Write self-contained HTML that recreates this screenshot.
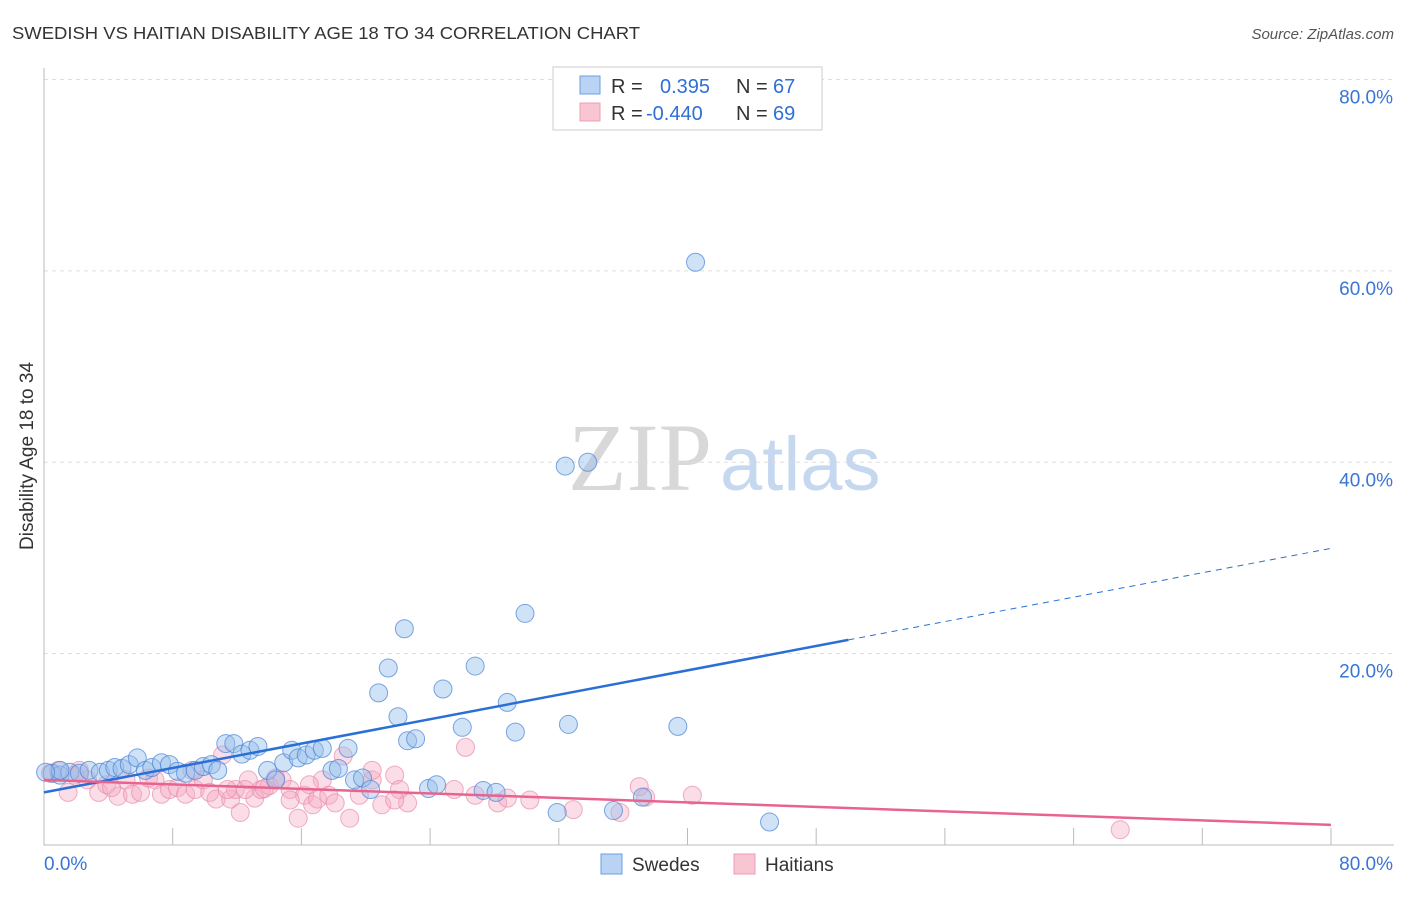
<!DOCTYPE html>
<html><head><meta charset="utf-8"><style>
body{margin:0;background:#fff;font-family:"Liberation Sans",sans-serif}
</style></head><body>
<svg id="chart" width="1406" height="892" xmlns="http://www.w3.org/2000/svg" font-family="Liberation Sans, sans-serif">
<text x="12" y="39" font-size="17.5" fill="#333" textLength="628" lengthAdjust="spacingAndGlyphs">SWEDISH VS HAITIAN DISABILITY AGE 18 TO 34 CORRELATION CHART</text>
<text x="1394" y="39" font-size="15" fill="#555" font-style="italic" text-anchor="end">Source: ZipAtlas.com</text>
<text x="712" y="490" font-size="96" fill="#d8d8d8" text-anchor="end" font-family="Liberation Serif, serif">ZIP</text>
<text x="720" y="490" font-size="76" fill="#c6d8ef">atlas</text>
<g id="grid"></g><g id="axes"></g><g id="marks"></g>
<text transform="translate(33,456) rotate(-90)" font-size="19" fill="#333" text-anchor="middle">Disability Age 18 to 34</text>
<g>
<rect x="553" y="67" width="269" height="63" fill="#fff" stroke="#ccc"/>
<rect x="580" y="76" width="20" height="18" fill="#b8d3f3" stroke="#6d9fe0"/>
<rect x="580" y="103" width="20" height="18" fill="#f8c5d3" stroke="#ec9fb6"/>
<text x="611" y="93" font-size="20" fill="#333">R = </text><text x="660" y="93" font-size="20" fill="#2f6fd6">0.395</text>
<text x="736" y="93" font-size="20" fill="#333">N = </text><text x="773" y="93" font-size="20" fill="#2f6fd6">67</text>
<text x="611" y="120" font-size="20" fill="#333">R = </text><text x="646" y="120" font-size="20" fill="#2f6fd6">-0.440</text>
<text x="736" y="120" font-size="20" fill="#333">N = </text><text x="773" y="120" font-size="20" fill="#2f6fd6">69</text>
</g>
<g>
<rect x="601" y="854" width="21" height="20" fill="#b8d3f3" stroke="#6d9fe0"/>
<text x="632" y="871" font-size="19" fill="#333">Swedes</text>
<rect x="734" y="854" width="21" height="20" fill="#f8c5d3" stroke="#ec9fb6"/>
<text x="765" y="871" font-size="19" fill="#333">Haitians</text>
</g>
</svg>
<script>
const xTicks=[0,80];
const yTicks=[20,40,60,80];
const swedesX=[0.5,1,1.6,2.2,2.8,3.5,4,4.4,4.851,5.3,5.8,6.3,6.7,7.3,7.8,8.3,8.8,9.4,9.9,10.4,10.8,11.3,11.8,12.3,12.8,13.3,13.9,14.4,14.9,15.4,15.8,16.3,16.8,17.3,17.9,18.3,18.9,19.3,19.8,20.3,20.8,21.4,22,22.4,22.6,23.1,23.9,24.4,24.8,26,26.8,27.3,28.1,28.8,29.3,29.9,31.9,32.4,33.8,32.6,35.4,37.2,39.4,40.5,45.1,1,0.1];
const swedesY=[7.5,7.3,7.6,7.5,7.8,7.6,7.8,8.1,8,8.4,9.1,7.8,8.1,8.6,8.4,7.7,7.5,7.8,8.2,8.4,7.8,10.6,10.6,9.5,9.9,10.3,7.8,6.8,8.6,9.9,9.1,9.4,9.9,10.1,7.8,8,10.1,6.8,7,5.8,15.9,18.5,13.4,22.6,10.9,11.1,5.9,6.3,16.3,12.3,18.7,5.7,5.5,14.9,11.8,24.2,3.4,39.6,40,12.6,3.6,5,12.4,60.9,2.4,7.8,7.6];
const haitiansX=[0.4,0.9,1.5,2.2,2.7,3.4,3.9,4.6,5.1,5.5,6,6.5,6.9,7.3,7.8,8.3,8.8,9.4,9.9,10.3,10.7,11.1,11.6,11.9,12.2,12.7,13.1,13.5,14,14.4,14.8,15.3,15.8,16.2,16.7,17,17.3,17.7,18.1,18.6,19,19.6,20.4,21,21.8,22.1,22.6,26.2,26.8,28.2,28.8,32.9,35.8,37,37.4,40.3,66.9,1.9,4.2,9.2,11.4,12.5,13.7,16.5,20.4,15.3,21.8,25.5,30.2];
const haitiansY=[7.5,7.8,5.5,7.8,6.8,5.5,6.3,5.1,6.8,5.3,5.5,7,6.8,5.3,5.8,6,5.3,5.8,6.8,5.5,4.8,9.4,4.8,5.8,3.4,6.8,4.9,5.8,6.2,7,6.8,5.8,2.8,5.2,4.2,4.8,6.8,5.2,4.4,9.3,2.8,5.2,6.8,4.2,7.3,5.8,4.4,10.2,5.2,4.4,4.9,3.7,3.4,6.1,5,5.2,1.6,7.3,6,7.8,5.8,5.8,5.9,6.3,7.8,4.7,4.7,5.8,4.7];
const sw={a:5.5,b:31,solidEnd:50};
const ha={a:6.8,b:2.1};
const X=v=>44+v*(1331-44)/80, Y=v=>845-v*(845-79.5)/80;
const NS='http://www.w3.org/2000/svg';
function mk(tag,at,parent){const e=document.createElementNS(NS,tag);for(const k in at)e.setAttribute(k,at[k]);document.getElementById(parent).appendChild(e);return e;}
yTicks.forEach(t=>{
 const g=mk('line',{x1:44,x2:1394,y1:Y(t),y2:Y(t),stroke:'#ddd','stroke-dasharray':'4,4'},'grid');
 
 
 const l=mk('text',{x:1393,y:Y(t)+24,'font-size':19,fill:'#3a75d6','text-anchor':'end'},'axes');l.textContent=t.toFixed(1)+'%';
 
 
});
for(let i=1;i<=10;i++){const x=44+i*(1331-44)/10;const t=mk('line',{x1:x,x2:x,y1:828,y2:845,stroke:'#bbb'},'axes');
 
 }
const ax=mk('path',{d:'M44,68V845H1394',fill:'none',stroke:'#bbb'},'axes');


xTicks.forEach((t,i)=>{const l=mk('text',{x:i?1393:44,y:870,'font-size':19,fill:'#3a75d6','text-anchor':i?'end':'start'},'axes');l.textContent=t.toFixed(1)+'%';
 
 });
haitiansX.forEach((x,i)=>{const c=mk('circle',{cx:X(x),cy:Y(haitiansY[i]),r:9,fill:'rgba(245,170,195,0.4)',stroke:'rgba(232,140,170,0.7)'},'marks');
 
 });
swedesX.forEach((x,i)=>{const c=mk('circle',{cx:X(x),cy:Y(swedesY[i]),r:9,fill:'rgba(150,190,235,0.45)',stroke:'rgba(70,130,215,0.7)'},'marks');
 
 });
const yb=x=>sw.a+(sw.b-sw.a)*x/80;
const l1=mk('line',{x1:X(0),y1:Y(yb(0)),x2:X(sw.solidEnd),y2:Y(yb(sw.solidEnd)),stroke:'#2a6fd6','stroke-width':2.5},'marks');


const l2=mk('line',{x1:X(sw.solidEnd),y1:Y(yb(sw.solidEnd)),x2:X(80),y2:Y(yb(80)),stroke:'#2a6fd6','stroke-width':1,'stroke-dasharray':'6,5'},'marks');


const l3=mk('line',{x1:X(0),y1:Y(ha.a),x2:X(80),y2:Y(ha.b),stroke:'#e8648f','stroke-width':2.5},'marks');


</script>
</body></html>
